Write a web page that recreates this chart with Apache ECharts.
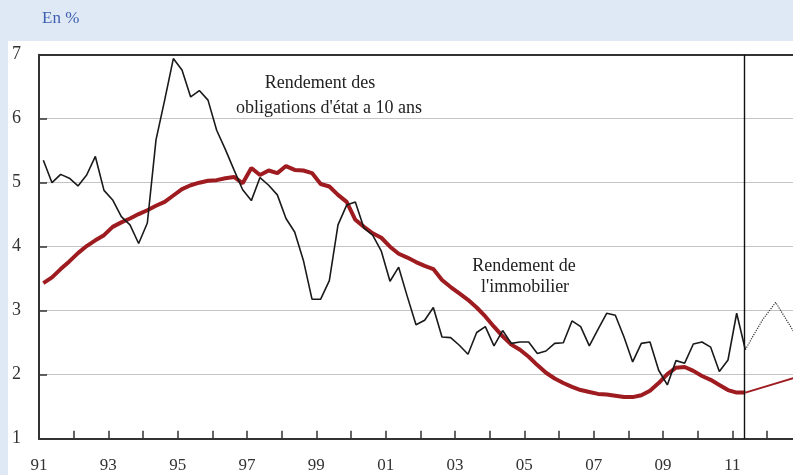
<!DOCTYPE html>
<html>
<head>
<meta charset="utf-8">
<script src="https://cdn.jsdelivr.net/npm/echarts@6/dist/echarts.min.js"></script>
<style>
  html, body { margin: 0; padding: 0; background: #fff; }
  #demo { width: 793px; height: 475px; }
</style>
</head>
<body>
<div id="demo"></div>
<script>
// trimestres : premier point au milieu du T1 1991
const firstQuarter = 1991.125
const yearLabels = ['91', '93', '95', '97', '99', '01', '03', '05', '07', '09', '11']

// rendement des obligations d'état à 10 ans (trimestriel)
const bondYield = [
  5.35, 5.00, 5.13, 5.07, 4.95, 5.12, 5.41, 4.88, 4.73, 4.47, 4.34, 4.05, 4.37, 5.67, 6.29, 6.94,
  6.76, 6.34, 6.44, 6.29, 5.82, 5.52, 5.20, 4.89, 4.72, 5.08, 4.96, 4.81, 4.44, 4.23, 3.79, 3.18,
  3.18, 3.47, 4.34, 4.65, 4.70, 4.29, 4.18, 3.93, 3.46, 3.68, 3.22, 2.78, 2.85, 3.05, 2.59, 2.58,
  2.46, 2.32, 2.66, 2.75, 2.45, 2.69, 2.49, 2.51, 2.51, 2.33, 2.37, 2.49, 2.50, 2.84, 2.75, 2.45,
  2.71, 2.96, 2.93, 2.59, 2.20, 2.49, 2.51, 2.07, 1.84, 2.22, 2.18, 2.48, 2.51, 2.43, 2.05, 2.23,
  2.96, 2.39
]

// rendement de l'immobilier (trimestriel)
const propertyYield = [
  3.43, 3.52, 3.65, 3.77, 3.90, 4.01, 4.10, 4.18, 4.31, 4.38, 4.44, 4.51, 4.57, 4.64, 4.70, 4.80,
  4.90, 4.96, 5.00, 5.03, 5.04, 5.07, 5.09, 4.99, 5.23, 5.12, 5.19, 5.15, 5.26, 5.20, 5.19, 5.15,
  4.98, 4.94, 4.81, 4.70, 4.42, 4.31, 4.21, 4.14, 4.00, 3.89, 3.83, 3.76, 3.70, 3.65, 3.48, 3.37,
  3.27, 3.17, 3.05, 2.91, 2.75, 2.60, 2.47, 2.39, 2.28, 2.15, 2.03, 1.94, 1.87, 1.81, 1.76, 1.73,
  1.70, 1.69, 1.67, 1.65, 1.65, 1.68, 1.75, 1.87, 2.01, 2.11, 2.12, 2.06, 1.98, 1.92, 1.84, 1.76,
  1.72, 1.72
]

// prévisions
const bondForecast = [[2011.375, 2.39], [2011.625, 2.63], [2011.875, 2.86], [2012.25, 3.13], [2012.875, 2.58]]
const propertyForecast = [[2011.375, 1.72], [2012.875, 1.965]]

const lastObs = 2011.35

const toPairs = arr => arr.map((v, i) => [firstQuarter + i * 0.25, v])

const serif = '"Liberation Serif", "DejaVu Serif", serif'
const ink = '#333'

let myChart = echarts.init(document.getElementById('demo'))

let option = {
  animation: false,
  backgroundColor: '#fff',
  grid: { left: 39, right: 0, top: 54.7, bottom: 36.3 },
  graphic: [
    { type: 'rect', shape: { x: 0, y: 0, width: 793, height: 41 }, style: { fill: '#dfe9f5' }, silent: true, z: -10 },
    { type: 'rect', shape: { x: 0, y: 0, width: 8, height: 475 }, style: { fill: '#dfe9f5' }, silent: true, z: -10 },
    { type: 'text', x: 42, y: 19, style: { text: 'En %', fill: '#3d5fb0', font: '17px ' + serif, textVerticalAlign: 'middle' } },
    { type: 'text', x: 320, y: 83, style: { text: 'Rendement des', fill: '#222', font: '18px ' + serif, textAlign: 'center', textVerticalAlign: 'middle' } },
    { type: 'text', x: 329, y: 108, style: { text: "obligations d'état a 10 ans", fill: '#222', font: '18px ' + serif, textAlign: 'center', textVerticalAlign: 'middle' } },
    { type: 'text', x: 524, y: 266, style: { text: 'Rendement de', fill: '#222', font: '18px ' + serif, textAlign: 'center', textVerticalAlign: 'middle' } },
    { type: 'text', x: 525, y: 287, style: { text: "l'immobilier", fill: '#222', font: '18px ' + serif, textAlign: 'center', textVerticalAlign: 'middle' } }
  ],
  xAxis: [
    {
      type: 'value',
      min: 1991,
      max: 2012.75,
      interval: 1,
      axisLine: { show: true, onZero: false, lineStyle: { color: ink, width: 2 } },
      axisTick: { show: true, inside: true, length: 8, lineStyle: { color: ink, width: 1.5 } },
      splitLine: { show: false },
      axisLabel: {
        margin: 18,
        color: ink,
        fontFamily: serif,
        fontSize: 17,
        showMaxLabel: false,
        formatter: v => {
          let idx = yearLabels.indexOf(String(Math.round(v) % 100).padStart(2, '0'))
          return idx >= 0 ? yearLabels[idx] : ''
        }
      }
    },
    {
      type: 'value',
      position: 'top',
      min: 1991,
      max: 2012.75,
      axisLine: { show: true, onZero: false, lineStyle: { color: ink, width: 2 } },
      axisTick: { show: false },
      axisLabel: { show: false },
      splitLine: { show: false }
    }
  ],
  yAxis: {
    type: 'value',
    min: 1,
    max: 7,
    interval: 1,
    axisLine: { show: true, lineStyle: { color: ink, width: 2 } },
    axisTick: { show: true, inside: true, length: 8, lineStyle: { color: ink, width: 1.5 } },
    splitLine: { show: true, lineStyle: { color: '#c4c4c8', width: 1 } },
    axisLabel: { margin: 18, color: ink, fontFamily: serif, fontSize: 18 }
  },
  series: [
    {
      name: "Rendement de l'immobilier",
      type: 'line',
      data: toPairs(propertyYield),
      showSymbol: false,
      lineStyle: { color: '#9e1b20', width: 4 },
      z: 3
    },
    {
      name: 'Immobilier prévision',
      type: 'line',
      data: propertyForecast,
      showSymbol: false,
      lineStyle: { color: '#9e1b20', width: 2 },
      z: 3
    },
    {
      name: "Rendement des obligations d'état a 10 ans",
      type: 'line',
      data: toPairs(bondYield),
      showSymbol: false,
      lineStyle: { color: '#1a1a1a', width: 1.6 },
      z: 4,
      markLine: {
        silent: true,
        symbol: 'none',
        label: { show: false },
        lineStyle: { color: '#111', width: 1.4, type: 'solid' },
        data: [{ xAxis: lastObs }]
      }
    },
    {
      name: 'Obligations prévision',
      type: 'line',
      data: bondForecast,
      showSymbol: false,
      lineStyle: { color: '#333', width: 1.2, type: 'dotted' },
      z: 4
    }
  ]
}

myChart.setOption(option)
</script>
</body>
</html>
